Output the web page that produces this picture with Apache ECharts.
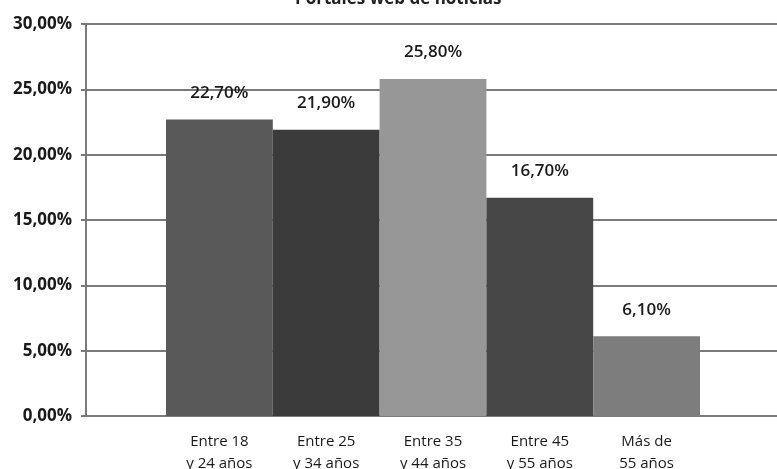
<!DOCTYPE html>
<html>
<head>
<meta charset="utf-8">
<script src="https://cdn.jsdelivr.net/npm/echarts@6/dist/echarts.min.js"></script>
<style>html,body{margin:0;padding:0;background:#fff}#c{width:777px;height:469px}</style>
</head>
<body>
<div id="c"></div>
<script>
const title = 'Portales web de noticias';
const categories = ['Entre 18\ny 24 años', 'Entre 25\ny 34 años', 'Entre 35\ny 44 años', 'Entre 45\ny 55 años', 'Más de\n55 años'];
const values = [22.7, 21.9, 25.8, 16.7, 6.1];
const yMin = 0, yMax = 30, yStep = 5;
const palette = ['#595959', '#3b3b3b', '#979797', '#474747', '#7d7d7d'];

const fmt = v => v.toFixed(2).replace('.', ',') + '%';
const FONT = 'Open Sans';
const chart = echarts.init(document.getElementById('c'), null, {renderer: 'canvas'});
chart.setOption({
  animation: false,
  backgroundColor: '#fff',
  title: {
    text: title, left: 290, top: -14,
    textStyle: {fontFamily: FONT, fontSize: 17, fontWeight: 'bold', color: '#222'}
  },
  grid: [
    {left: 86, right: 0, top: 24, bottom: 53, outerBoundsMode: 'none', containLabel: false},
    {left: 166, right: 77, top: 24, bottom: 53, outerBoundsMode: 'none', containLabel: false}
  ],
  xAxis: [
    {gridIndex: 0, type: 'category', data: [''], show: false},
    {gridIndex: 1, type: 'category', data: categories,
     axisLine: {show: false}, axisTick: {show: false},
     axisLabel: {fontFamily: FONT, fontSize: 15, fontWeight: 500, color: '#1a1a1a', lineHeight: 22, margin: 15}}
  ],
  yAxis: [
    {gridIndex: 0, type: 'value', min: yMin, max: yMax, interval: yStep,
     axisLine: {show: true, lineStyle: {color: '#7a7a7a', width: 2}},
     axisTick: {show: true, length: 5, lineStyle: {color: '#7a7a7a', width: 2}},
     splitLine: {show: true, lineStyle: {color: '#7a7a7a', width: 2}},
     axisLabel: {formatter: fmt, fontFamily: FONT, fontSize: 17, fontWeight: 'bold', color: '#1a1a1a', margin: 14}},
    {gridIndex: 1, type: 'value', min: yMin, max: yMax, interval: yStep, show: false, splitLine: {show: false}}
  ],
  series: [{
    type: 'bar', xAxisIndex: 1, yAxisIndex: 1,
    barCategoryGap: '0%',
    data: values.map((v, i) => ({value: v, itemStyle: {color: palette[i]}})),
    label: {show: true, position: 'top', distance: 18, formatter: p => fmt(p.value),
            fontFamily: FONT, fontSize: 17, fontWeight: 600, color: '#1a1a1a'}
  }]
});
</script>
</body>
</html>
